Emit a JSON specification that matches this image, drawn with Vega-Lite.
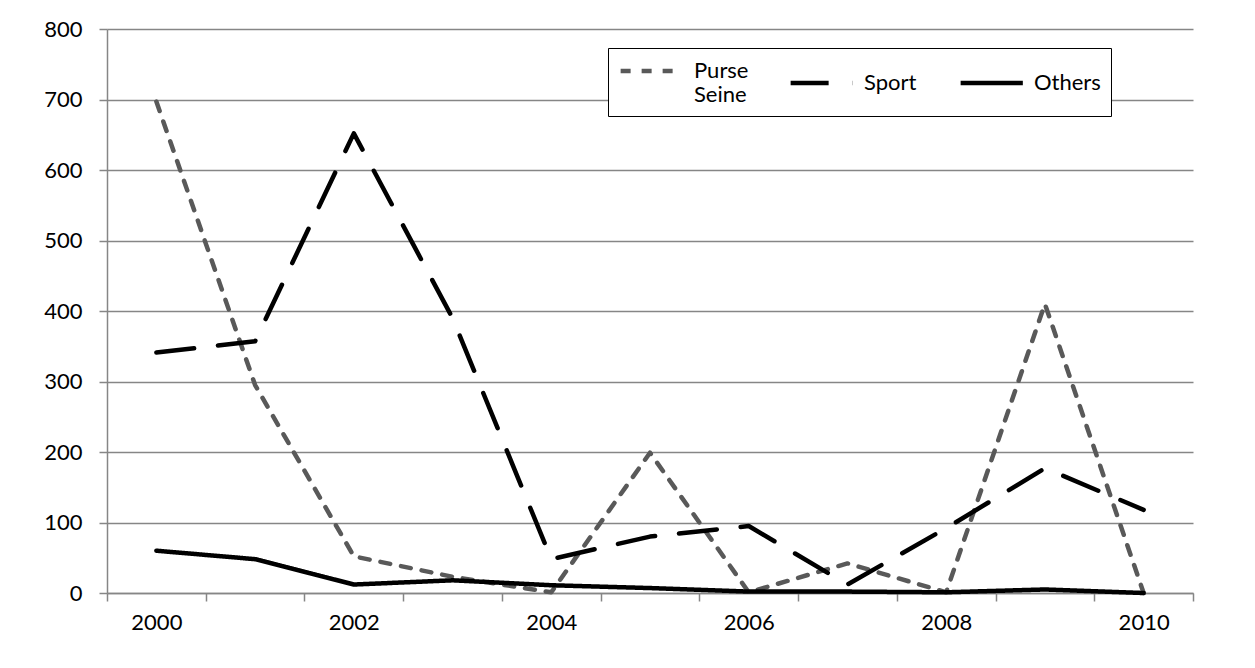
{
  "$schema": "https://vega.github.io/schema/vega-lite/v6.json",
  "width": 1086,
  "height": 564,
  "autosize": {"type": "none"},
  "padding": {"left": 107, "top": 29, "right": 62, "bottom": 75},
  "background": "white",
  "config": {
    "view": {"stroke": null},
    "font": "Lato",
    "axis": {"labelFont": "Lato", "labelColor": "black", "labelFontSize": 22}
  },
  "data": {
    "values": [
      {"year": 2000, "series": "Purse Seine", "value": 697},
      {"year": 2001, "series": "Purse Seine", "value": 295},
      {"year": 2002, "series": "Purse Seine", "value": 52},
      {"year": 2003, "series": "Purse Seine", "value": 23},
      {"year": 2004, "series": "Purse Seine", "value": 1},
      {"year": 2005, "series": "Purse Seine", "value": 199},
      {"year": 2006, "series": "Purse Seine", "value": 1},
      {"year": 2007, "series": "Purse Seine", "value": 42},
      {"year": 2008, "series": "Purse Seine", "value": 1},
      {"year": 2009, "series": "Purse Seine", "value": 410},
      {"year": 2010, "series": "Purse Seine", "value": 0},
      {"year": 2000, "series": "Sport", "value": 341},
      {"year": 2001, "series": "Sport", "value": 357},
      {"year": 2002, "series": "Sport", "value": 652},
      {"year": 2003, "series": "Sport", "value": 390},
      {"year": 2004, "series": "Sport", "value": 48},
      {"year": 2005, "series": "Sport", "value": 80},
      {"year": 2006, "series": "Sport", "value": 95},
      {"year": 2007, "series": "Sport", "value": 12},
      {"year": 2008, "series": "Sport", "value": 92},
      {"year": 2009, "series": "Sport", "value": 177},
      {"year": 2010, "series": "Sport", "value": 118},
      {"year": 2000, "series": "Others", "value": 60},
      {"year": 2001, "series": "Others", "value": 48},
      {"year": 2002, "series": "Others", "value": 12},
      {"year": 2003, "series": "Others", "value": 18},
      {"year": 2004, "series": "Others", "value": 11},
      {"year": 2005, "series": "Others", "value": 7},
      {"year": 2006, "series": "Others", "value": 2},
      {"year": 2007, "series": "Others", "value": 2},
      {"year": 2008, "series": "Others", "value": 1},
      {"year": 2009, "series": "Others", "value": 5},
      {"year": 2010, "series": "Others", "value": 0}
    ]
  },
  "mark": {"type": "line", "strokeWidth": 4.5, "strokeCap": "round", "strokeJoin": "round"},
  "encoding": {
    "x": {
      "field": "year",
      "type": "ordinal",
      "bandPosition": 0.5,
      "scale": {"type": "band", "paddingInner": 0, "paddingOuter": 0},
      "axis": {
        "title": null,
        "labelAngle": 0,
        "tickBand": "extent",
        "labelExpr": "toNumber(datum.value) % 2 == 0 ? datum.label : ''",
        "domainColor": "#868686",
        "tickColor": "#868686",
        "domainWidth": 1.5,
        "tickWidth": 1.5,
        "tickSize": 8,
        "labelPadding": 11,
        "grid": false
      }
    },
    "y": {
      "field": "value",
      "type": "quantitative",
      "scale": {"domain": [0, 800], "nice": false},
      "axis": {
        "title": null,
        "values": [0, 100, 200, 300, 400, 500, 600, 700, 800],
        "grid": true,
        "gridColor": "#868686",
        "gridWidth": 1.5,
        "domainColor": "#868686",
        "domainWidth": 1.5,
        "tickColor": "#868686",
        "tickWidth": 1.5,
        "tickSize": 8,
        "labelPadding": 17
      }
    },
    "color": {
      "field": "series",
      "type": "nominal",
      "scale": {"domain": ["Purse Seine", "Sport", "Others"], "range": ["#595959", "#000000", "#000000"]},
      "legend": {
        "title": null,
        "orient": "none",
        "legendX": 501,
        "legendY": 19,
        "direction": "horizontal",
        "gridAlign": "all",
        "symbolType": "M-1,0H5",
        "symbolSize": 430,
        "symbolStrokeWidth": 4.5,
        "symbolFillColor": "transparent",
        "labelFont": "Lato",
        "labelFontSize": 22,
        "labelColor": "black",
        "labelOffset": 50,
        "labelBaseline": "middle",
        "labelExpr": "datum.label == 'Purse Seine' ? ['Purse', 'Seine'] : datum.label",
        "columnPadding": 20,
        "padding": 10,
        "strokeColor": "black",
        "fillColor": "white"
      }
    },
    "strokeDash": {
      "field": "series",
      "type": "nominal",
      "scale": {"domain": ["Purse Seine", "Sport", "Others"], "range": [[10, 11], [38, 24], [1, 0]]},
      "legend": null
    },
    "order": {"field": "year", "type": "ordinal"}
  }
}
